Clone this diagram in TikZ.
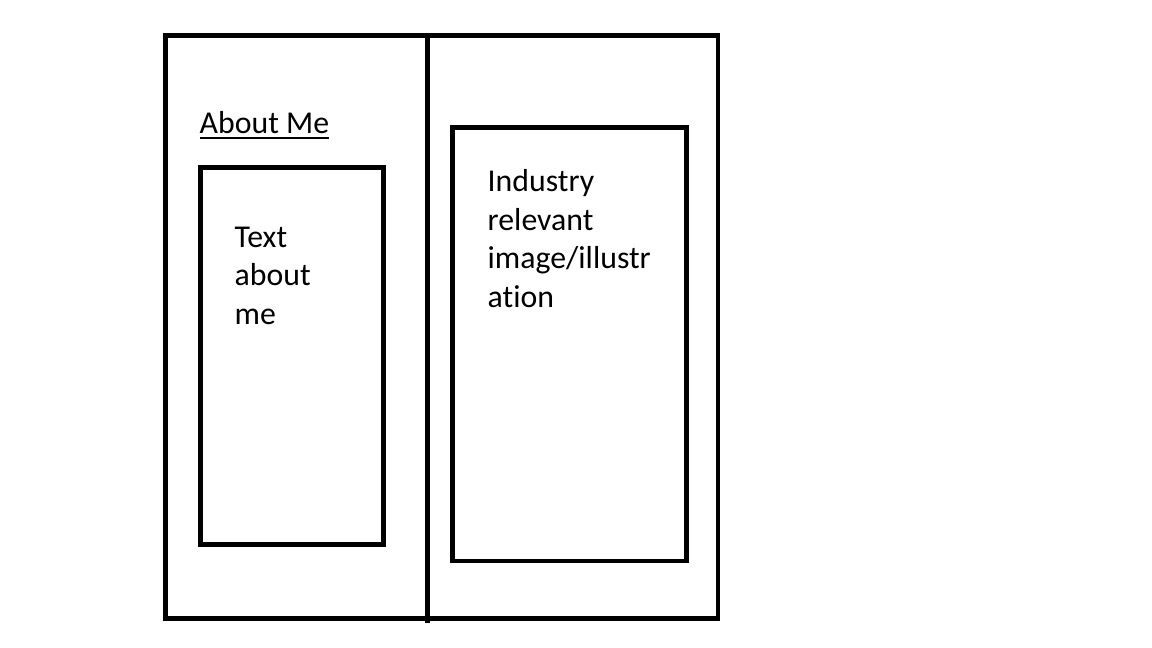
\documentclass[tikz,border=0pt]{standalone}
\usepackage{fontspec}
\setmainfont{Carlito}[Ligatures={NoCommon}]
\begin{document}
\begin{tikzpicture}[x=1pt,y=-1pt,
  frame/.style={draw=black,line width=4.5pt},
  label/.style={anchor=base west,inner sep=0pt,font=\fontsize{31.8}{38.4}\selectfont,align=left}]
\useasboundingbox (0,0) rectangle (1152,648);
% page outline and column divider
\draw[frame] (165.5,35.5) rectangle (718,618.3);
\draw[frame] (427.7,35.5) -- (427.7,623);
% left column: heading and text block (base anchor sits on the last line)
\node[label] (about) at (199.5,133.3) {About Me};
\draw[line width=2pt] ([yshift=-5pt]about.base west) -- ([yshift=-5pt]about.base east);
\draw[frame] (200.5,167.5) rectangle (383.7,544.3);
\node[label] (text) at (234.5,324) {Text\\about\\me};
% right column: image placeholder
\draw[frame] (452.5,127.5) rectangle (686.5,561);
\node[label] (image) at (487.5,307) {Industry\\relevant\\image/illustr\\ation};
\end{tikzpicture}
\end{document}
